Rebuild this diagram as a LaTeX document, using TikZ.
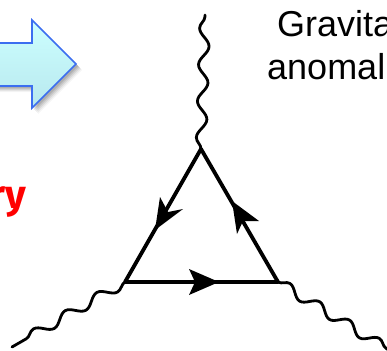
\documentclass[tikz,border=0pt]{standalone}
\usepackage{fontspec}
\setmainfont{Liberation Sans}
\newfontfamily\redfont{Fira Sans}
\usetikzlibrary{decorations.pathmorphing,arrows.meta}
\definecolor{arrowedge}{HTML}{3C6EF0}
\definecolor{arrowtop}{HTML}{CCFFFF}
\definecolor{arrowbot}{HTML}{B8E8EE}
\tikzset{
  wig/.style={line width=2.8pt,line cap=round,line join=round,decorate,decoration={snake,amplitude=5pt,segment length=#1}},
  loopline/.style={line width=3.8pt,line cap=round,line join=round},
  head/.style={fill=black,draw=none},
  labeltext/.style={font=\fontsize{36}{43}\selectfont,align=center,text=black,inner sep=0pt},
}
\begin{document}
\begin{tikzpicture}[x=1pt,y=-1pt]
\useasboundingbox (0,0) rectangle (387,350);
\clip (0,0) rectangle (387,350);
% block arrow with soft shadow
\foreach \d/\o in {6/0.04,5/0.06,4/0.08,3/0.09,2/0.10}{
  \fill[black,opacity=\o,shift={(\d pt,-\d pt)}] (-10,43)--(32,43)--(32,20)--(76,64)--(32,108)--(32,86)--(-10,86)--cycle;
}
\path[top color=arrowtop,bottom color=arrowbot,draw=arrowedge,line width=1.6pt,line join=miter]
  (-10,43)--(32,43)--(32,20)--(76,64)--(32,108)--(32,86)--(-10,86)--cycle;
% text
\node[labeltext,anchor=base west] (gravita) at (277,37) {Gravita};
\node[labeltext,anchor=base west] (anomal) at (267,80) {anomal};
\node[anchor=base east,inner sep=0pt,text=red,font=\redfont\bfseries\fontsize{40}{40}\selectfont] (ry) at (26,208) {ry};
% vertices
\coordinate (apex) at (201,149);
\coordinate (vl) at (125,282);
\coordinate (vr) at (278,282);
\coordinate (topend) at (205,15);
\coordinate (leftend) at (12,347);
\coordinate (rightend) at (392,352);
% triangle
\draw[loopline] (apex)--(vl)--(vr)--cycle;
\fill[head] (155,230)--(160,197)--(168,212)--(183,209)--cycle;
\fill[head] (232,201)--(259,221)--(243,221)--(237,234)--cycle;
\fill[head] (219,282)--(189,269)--(195,282)--(189,295)--cycle;
% wiggles
\draw[wig=36.5pt] (vl) -- (leftend);
\draw[wig=35pt] (vr) -- (rightend);
\draw[wig=36.5pt] (apex) -- (topend);
\end{tikzpicture}
\end{document}
